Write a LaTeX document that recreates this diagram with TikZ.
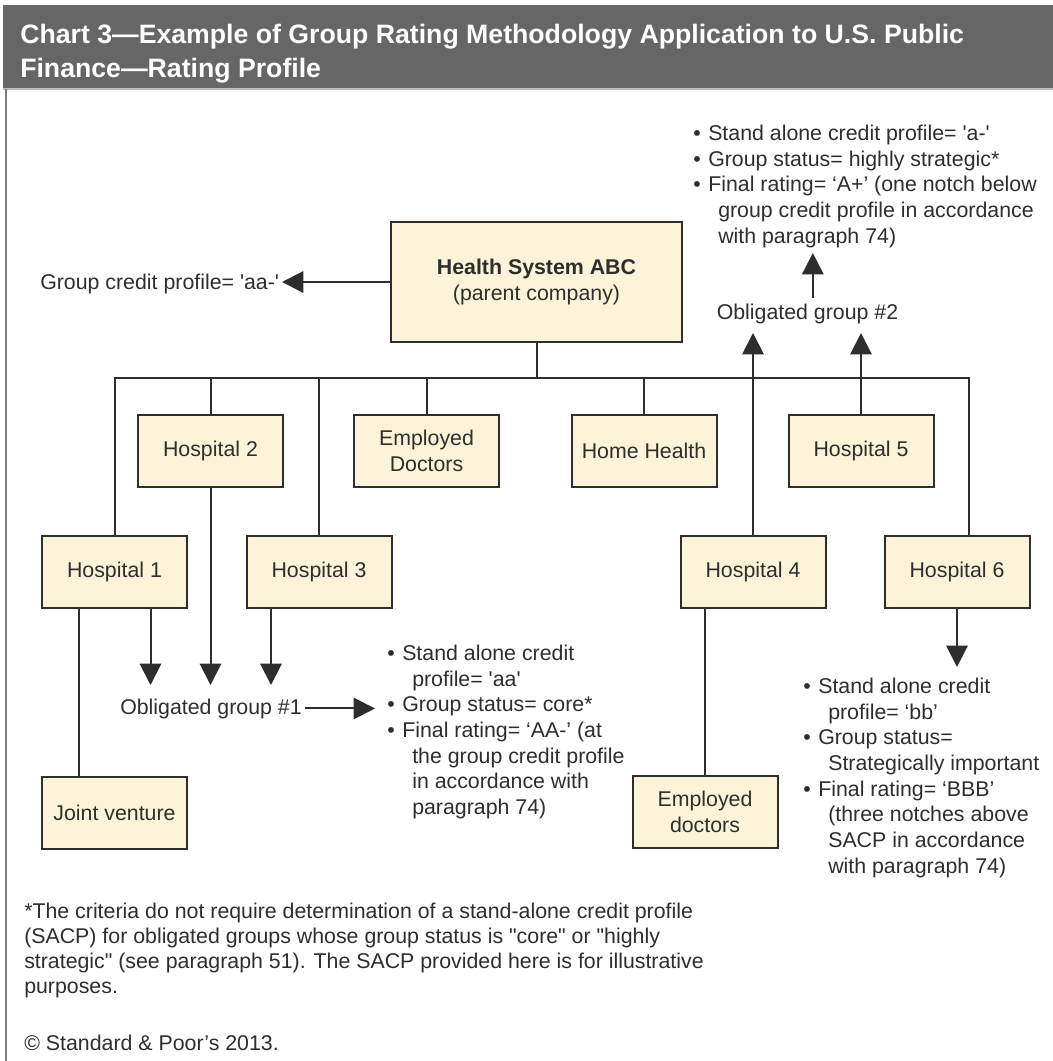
\documentclass[tikz,border=0pt]{standalone}
\usepackage{fontspec}
\setmainfont{Liberation Sans}
\usetikzlibrary{arrows.meta,calc}
\definecolor{boxfill}{HTML}{FDF3D8}
\definecolor{ink}{HTML}{2E2E2E}
\definecolor{hdr}{HTML}{666666}
\newcommand\sq{\textquotesingle}
\newcommand\dq{\textquotedbl}
\newcommand\bitem[1]{\makebox[11.25pt][l]{•}#1}
\newcommand\lcont[1]{\hspace*{18.75pt}#1}
\begin{document}
\begin{tikzpicture}[x=0.75pt,y=-0.75pt,
  every node/.style={font=\fontsize{16}{19.3}\selectfont, text=ink},
  box/.style={draw=ink, line width=1.5pt, fill=boxfill, minimum width=108.75pt, minimum height=54pt, inner sep=0pt, align=center},
  conn/.style={draw=ink, line width=1.5pt},
  arr/.style={conn, -{Triangle[width=16pt,length=16pt]}},
  lbl/.style={inner sep=0pt, anchor=base west},
  list/.style={inner sep=0pt, anchor=north west, align=left},
  ttl/.style={lbl, text=white, font=\bfseries\fontsize{20}{24}\selectfont},
]
\useasboundingbox (0,0) rectangle (1053,1061);
\fill[white] (0,0) rectangle (1053,1061);
% header
\fill[hdr] (3,5) rectangle (1053,88);
\draw[gray!50, line width=1.5pt] (3,89) -- (1053,89);
\draw[gray, line width=1.5pt] (6,89) -- (6,1061);
\node[ttl] (t1) at (20,43) {Chart 3—Example of Group Rating Methodology Application to U.S. Public};
\node[ttl] (t2) at (20,77) {Finance—Rating Profile};

% boxes
\node[box, minimum width=218.25pt, minimum height=90pt] (parent) at (536.5,282) {\textbf{Health System ABC}\\(parent company)};
\node[box] (h2) at (210.5,450.5) {Hospital 2};
\node[box] (ed) at (426.5,450.5) {Employed\\Doctors};
\node[box] (hh) at (644,450.5) {Home Health};
\node[box] (h5) at (861,450.5) {Hospital 5};
\node[box] (h1) at (114.5,572) {Hospital 1};
\node[box] (h3) at (319,572) {Hospital 3};
\node[box] (h4) at (753,572) {Hospital 4};
\node[box] (h6) at (957,572) {Hospital 6};
\node[box] (jv) at (114.5,813) {Joint venture};
\node[box] (ed2) at (705,812) {Employed\\doctors};

% labels
\node[lbl] (gcp) at (40,289) {Group credit profile= \sq aa-\sq};
\node[lbl] (og1) at (120,714) {Obligated group \#1};
\node[inner sep=0pt, anchor=base] (og2) at (807.5,319) {Obligated group \#2};

\node[list] (l1) at (387,642) {\strut\bitem{Stand alone credit}\\
\lcont{profile= \sq aa\sq}\\
\bitem{Group status= core*}\\
\bitem{Final rating= ‘AA-’ (at}\\
\lcont{the group credit profile}\\
\lcont{in accordance with}\\
\lcont{paragraph 74)}};

\node[list] (l2) at (693,122) {\strut\bitem{Stand alone credit profile= \sq a-\sq}\\
\bitem{Group status= highly strategic*}\\
\bitem{Final rating= ‘A+’ (one notch below}\\
\lcont{group credit profile in accordance}\\
\lcont{with paragraph 74)}};

\node[list] (l3) at (803,675) {\strut\bitem{Stand alone credit}\\
\lcont{profile= ‘bb’}\\
\bitem{Group status=}\\
\lcont{Strategically important}\\
\bitem{Final rating= ‘BBB’}\\
\lcont{(three notches above}\\
\lcont{SACP in accordance}\\
\lcont{with paragraph 74)}};

\node[list, font=\fontsize{16}{18.75}\selectfont] (fn) at (24,901) {\strut*The criteria do not require determination of a stand-alone credit profile\\
(SACP) for obligated groups whose group status is \dq core\dq{} or \dq highly\\
strategic\dq{} (see paragraph 51). The SACP provided here is for illustrative\\
purposes.};
\node[lbl] (copy) at (24,1050) {© Standard \& Poor’s 2013.};

% coordinates for free arrow ends
\coordinate (busL) at (0,378);
\coordinate (og1in) at (0,685);
\coordinate (og2in) at (0,333);
\coordinate (l2in) at (0,253);
\coordinate (l1in) at (375,0);
\coordinate (l3in) at (0,667);

% connectors
\draw[conn] (parent.south) -- (parent.south |- busL);
\draw[conn] (h1.north) |- ([xshift=9pt]h6.north |- busL) -- ([xshift=9pt]h6.north);
\draw[conn] (h2.north) -- (h2.north |- busL);
\draw[conn] (h3.north) -- (h3.north |- busL);
\draw[conn] (ed.north) -- (ed.north |- busL);
\draw[conn] (hh.north) -- (hh.north |- busL);

\draw[arr] (parent.west) -- ([xshift=2pt]parent.west -| gcp.east);
\draw[arr] ([xshift=27pt]h1.south) -- ([xshift=27pt]h1.south |- og1in);
\draw[arr] (h2.south) -- (h2.south |- og1in);
\draw[arr] ([xshift=-36pt]h3.south) -- ([xshift=-36pt]h3.south |- og1in);
\draw[conn] ([xshift=-27pt]h1.south) -- ([xshift=-27pt]jv.north);
\draw[arr] ([xshift=2pt]og1.east) -- (og1.east -| l1in);

\draw[arr] (h4.north) -- (h4.north |- og2in);
\draw[arr] (h5.north) -- (h5.north |- og2in);
\draw[arr] ([xshift=4pt,yshift=4pt]og2.north) -- ([xshift=4pt]og2.north |- l2in);
\draw[conn] (ed2.north |- h4.south) -- (ed2.north);
\draw[arr] (h6.south) -- (h6.south |- l3in);
\end{tikzpicture}
\end{document}
